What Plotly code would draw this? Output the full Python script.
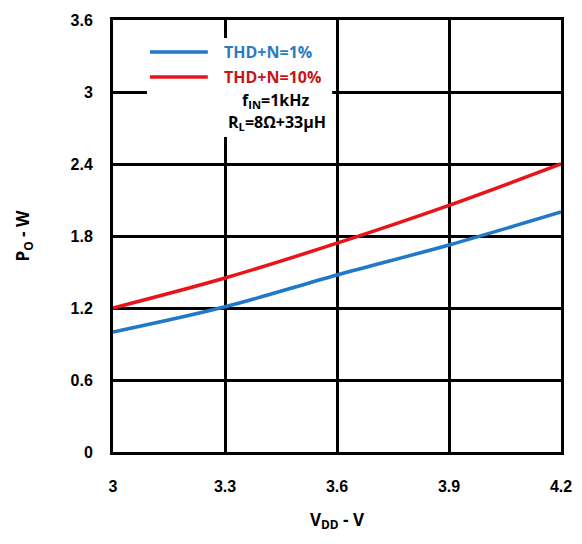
import plotly.graph_objects as go

vdd = [3.0, 3.3, 3.6, 3.9, 4.2]
po_1pct = [1.00, 1.21, 1.475, 1.725, 2.00]
po_10pct = [1.20, 1.45, 1.74, 2.055, 2.40]

x_ticks = [3, 3.3, 3.6, 3.9, 4.2]
x_ticklabels = ["3", "3.3", "3.6", "3.9", "4.2"]
y_ticks = [0, 0.6, 1.2, 1.8, 2.4, 3, 3.6]
y_ticklabels = ["0", "0.6", "1.2", "1.8", "2.4", "3", "3.6"]

blue = "#1f78c8"
red = "#e8141a"
blue_txt = "#2b7bc0"
red_txt = "#c8141a"

fig = go.Figure()
fig.add_trace(go.Scatter(x=vdd, y=po_1pct, mode="lines", line=dict(color=blue, width=3.5),
                         name="THD+N=1%", line_shape="spline"))
fig.add_trace(go.Scatter(x=vdd, y=po_10pct, mode="lines", line=dict(color=red, width=3.5),
                         name="THD+N=10%", line_shape="spline"))

font_main = "Liberation Sans, Arial, sans-serif"
font_leg = "Open Sans, sans-serif"

# legend box (white) covering grid
fig.add_shape(type="rect", xref="x", yref="y", x0=3.091, x1=3.587, y0=2.625, y1=3.45,
              fillcolor="white", line=dict(width=0), layer="above")
# legend samples
fig.add_shape(type="line", xref="x", yref="y", x0=3.099, x1=3.254, y0=3.333, y1=3.333,
              line=dict(color=blue, width=3.5), layer="above")
fig.add_shape(type="line", xref="x", yref="y", x0=3.099, x1=3.254, y0=3.125, y1=3.125,
              line=dict(color=red, width=3.5), layer="above")
fig.add_annotation(x=3.293, y=3.333, xref="x", yref="y", text="<b>THD+N=1%</b>", showarrow=False,
                   xanchor="left", yanchor="middle", font=dict(family=font_leg, size=16, color=blue_txt))
fig.add_annotation(x=3.293, y=3.125, xref="x", yref="y", text="<b>THD+N=10%</b>", showarrow=False,
                   xanchor="left", yanchor="middle", font=dict(family=font_leg, size=16, color=red_txt))
fig.add_annotation(x=3.434, y=2.933, xref="x", yref="y", text="<b>f<sub>IN</sub>=1kHz</b>", showarrow=False,
                   xanchor="center", yanchor="middle", font=dict(family=font_leg, size=16, color="black"))
fig.add_annotation(x=3.439, y=2.742, xref="x", yref="y", text="<b>R<sub>L</sub>=8Ω+33μH</b>", showarrow=False,
                   xanchor="center", yanchor="middle", font=dict(family=font_leg, size=16, color="black"))

# page body has an 8px margin; figure sized to fit the 582x544 window
fig.update_layout(
    width=574, height=536,
    margin=dict(l=105, r=21, t=12, b=92),
    paper_bgcolor="white", plot_bgcolor="white",
    showlegend=False,
    font=dict(family=font_main, color="black"),
)
fig.update_xaxes(
    range=[3, 4.2], tickvals=x_ticks, ticktext=["<b>%s</b>" % t for t in x_ticklabels],
    showgrid=True, gridcolor="black", gridwidth=3, automargin=False,
    showline=True, linecolor="black", linewidth=3, mirror=True, zeroline=False,
    ticks="", ticklabelstandoff=18, tickfont=dict(size=16, family=font_main),
    title=dict(text="<b>V<sub>DD</sub> - V</b>", font=dict(size=17, family=font_leg), standoff=20),
)
fig.update_yaxes(
    range=[0, 3.6], tickvals=y_ticks, ticktext=["<b>%s</b>" % t for t in y_ticklabels],
    showgrid=True, gridcolor="black", gridwidth=3, automargin=False,
    showline=True, linecolor="black", linewidth=3, mirror=True, zeroline=False,
    ticks="", ticklabelstandoff=14, tickfont=dict(size=16, family=font_main),
    title=dict(text="<b>P<sub>O</sub> - W</b>", font=dict(size=17, family=font_leg), standoff=37),
)

fig.write_html("out.html")
